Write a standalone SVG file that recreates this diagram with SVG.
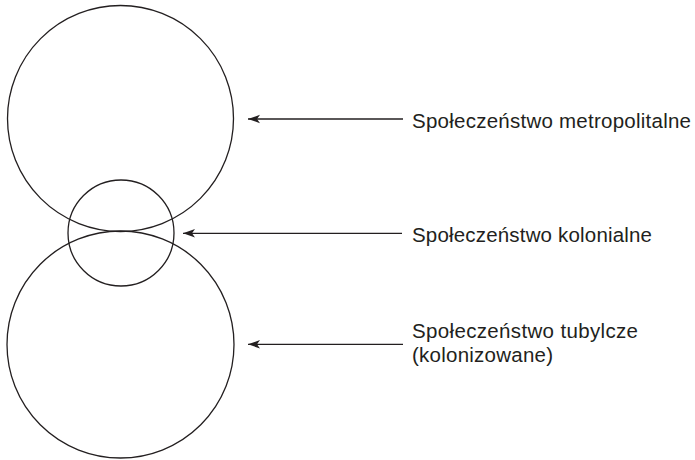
<svg xmlns="http://www.w3.org/2000/svg" width="695" height="460" viewBox="0 0 695 460">
<defs>
<style>
.c{fill:none;stroke:#231f20;stroke-width:1.3}
.a{fill:none;stroke:#231f20;stroke-width:1.3;marker-end:url(#ah)}
.t{font-family:"Liberation Sans",Arial,sans-serif;font-size:20.5px;fill:#231f20}
</style>
<marker id="ah" viewBox="0 0 12 10" refX="12" refY="5" markerWidth="12" markerHeight="10" orient="auto" markerUnits="userSpaceOnUse">
<path d="M12,5 L0,0.8 L3,5 L0,9.2 Z" fill="#231f20"/>
</marker>
</defs>
<rect width="695" height="460" fill="#fff"/>
<g id="metropolitan"><circle class="c" cx="120.5" cy="118.5" r="113"/></g>
<g id="native"><circle class="c" cx="120.5" cy="344.5" r="113.5"/></g>
<g id="colonial"><circle class="c" cx="121" cy="233" r="53"/></g>
<g id="connectors">
<line class="a" x1="403" y1="119" x2="248" y2="119"/>
<line class="a" x1="402" y1="233.3" x2="183" y2="233.3"/>
<line class="a" x1="403" y1="344.3" x2="248" y2="344.3"/>
</g>
<g id="labels">
<text class="t" x="412" y="128" textLength="279">Społeczeństwo metropolitalne</text>
<text class="t" x="412" y="242" textLength="240">Społeczeństwo kolonialne</text>
<text class="t" x="412" y="338" textLength="226">Społeczeństwo tubylcze</text>
<text class="t" x="412" y="362" textLength="141">(kolonizowane)</text>
</g>
</svg>
